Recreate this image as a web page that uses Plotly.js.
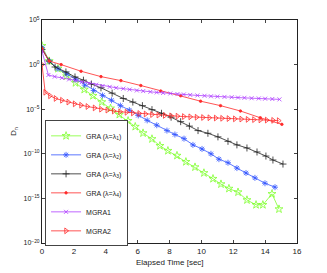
<!DOCTYPE html>
<html><head><meta charset="utf-8">
<script src="https://cdn.plot.ly/plotly-3.0.1.min.js"></script>
<style>html,body{margin:0;padding:0;background:#fff}#c{width:327px;height:273px}</style>
</head><body><div id="c"></div>
<script>
var gra1X = [0, 0.45, 1.0, 1.55, 2.1, 2.65, 3.2, 3.75, 4.3, 4.85, 5.4, 5.85, 6.34, 6.9, 7.4, 7.9, 8.47, 9.03, 9.6, 10.16, 10.73, 11.23, 11.73, 12.3, 12.86, 13.43, 13.86, 14.43, 14.87];
var gra1Y = [1.26e2, 2.5, 3.5e-1, 5.0e-2, 8.9e-3, 1.6e-3, 3.2e-4, 6.3e-5, 1.26e-5, 2.5e-6, 5.0e-7, 1.1e-7, 2.1e-8, 4.6e-9, 7.9e-10, 2.2e-10, 6.3e-11, 1.26e-11, 3.2e-12, 7.1e-13, 1.6e-13, 4.0e-14, 1.26e-14, 5.0e-15, 6.6e-16, 1.9e-16, 1.9e-16, 3.2e-15, 6.3e-17];

var gra2X = [0, 0.45, 1.0, 1.56, 2.12, 2.68, 3.24, 3.8, 4.36, 4.92, 5.48, 6.04, 6.6, 7.2, 7.84, 8.34, 8.91, 9.47, 10.04, 10.6, 11.1, 11.67, 12.23, 12.8, 13.36, 13.99, 14.62];
var gra2Y = [7.9e1, 2.5, 3.5e-1, 8.9e-2, 2.2e-2, 5.0e-3, 1.26e-3, 3.5e-4, 1e-4, 2.5e-5, 7.9e-6, 2.0e-6, 5.6e-7, 1.6e-7, 4.0e-8, 1.45e-8, 5.0e-9, 1.0e-9, 3.5e-10, 1e-10, 2.5e-11, 1e-11, 2.5e-12, 7.1e-13, 2.0e-13, 5.0e-14, 1.8e-14];

var gra3X = [0, 0.45, 0.82, 1.5, 2.07, 2.6, 3.1, 3.7, 4.4, 5.1, 5.7, 6.3, 6.9, 7.5, 8.1, 8.7, 9.25, 9.79, 10.41, 11.04, 11.67, 12.23, 12.86, 13.49, 14.05, 14.49, 15.12];
var gra3Y = [5.0e1, 2.5, 5.4e-1, 1.5e-1, 4.1e-2, 1.8e-2, 6.6e-3, 2.5e-3, 6.3e-4, 1.6e-4, 6.3e-5, 2.5e-5, 8.9e-6, 3.5e-6, 1.26e-6, 4.0e-7, 1.26e-7, 4.0e-8, 2.0e-8, 7.9e-9, 2.5e-9, 1e-9, 4.5e-10, 1.6e-10, 5.6e-11, 2.0e-11, 7.1e-12];

var gra4X = [0, 0.45, 1.2, 2.45, 3.7, 4.95, 6.2, 7.45, 8.7, 9.95, 11.2, 12.45, 13.7, 15.05];
var gra4Y = [6.3e1, 2.5, 1.0, 1.8e-1, 4.5e-2, 1.6e-2, 4.5e-3, 1.1e-3, 3.2e-4, 7.9e-5, 2.5e-5, 6.3e-6, 1.1e-6, 2.0e-7];

var mgra1X = [0, 0.4, 0.8, 1.25, 1.7, 2.1, 2.5, 2.95, 3.4, 3.8, 4.25, 4.65, 5.1, 5.5, 5.95, 6.35, 6.8, 7.2, 7.6, 8.05, 8.5, 8.9, 9.3, 9.75, 10.2, 10.6, 11.0, 11.45, 11.9, 12.3, 12.7, 13.15, 13.6, 14.0, 14.45, 14.9];
var mgra1Y = [3.2e1, 6.8e-2, 4.5e-2, 3.2e-2, 2.2e-2, 1.6e-2, 1.1e-2, 7.9e-3, 5.6e-3, 4.0e-3, 3.2e-3, 2.5e-3, 2.0e-3, 1.6e-3, 1.26e-3, 1.07e-3, 8.9e-4, 7.6e-4, 6.6e-4, 5.8e-4, 5.0e-4, 4.5e-4, 4.0e-4, 3.5e-4, 3.2e-4, 2.8e-4, 2.6e-4, 2.4e-4, 2.2e-4, 2.0e-4, 1.9e-4, 1.7e-4, 1.6e-4, 1.5e-4, 1.4e-4, 1.26e-4];

var mgra2X = [0, 0.2, 0.5, 0.85, 1.25, 1.65, 2.05, 2.45, 2.85, 3.3, 3.7, 4.1, 4.5, 4.9, 5.3, 5.7, 6.1, 6.5, 6.9, 7.3, 7.7, 8.1, 8.5, 8.9, 9.3, 9.7, 10.1, 10.5, 10.9, 11.3, 11.7, 12.1, 12.5, 12.9, 13.3, 13.7, 14.1, 14.5, 14.85];
var mgra2Y = [1.0, 7.9e-4, 3.2e-4, 1.6e-4, 1e-4, 6.3e-5, 4.0e-5, 2.8e-5, 2.0e-5, 1.4e-5, 1e-5, 7.9e-6, 6.3e-6, 5.2e-6, 4.5e-6, 3.8e-6, 3.3e-6, 2.9e-6, 2.5e-6, 2.2e-6, 2.0e-6, 1.8e-6, 1.66e-6, 1.5e-6, 1.4e-6, 1.26e-6, 1.17e-6, 1.1e-6, 1.02e-6, 9.5e-7, 8.9e-7, 8.3e-7, 7.8e-7, 7.2e-7, 6.8e-7, 6.3e-7, 6.0e-7, 5.6e-7, 5.2e-7];

var seriesNames = ["GRA (\u03bb=\u03bb<sub>1</sub>)", "GRA (\u03bb=\u03bb<sub>2</sub>)", "GRA (\u03bb=\u03bb<sub>3</sub>)", "GRA (\u03bb=\u03bb<sub>4</sub>)", "MGRA1", "MGRA2"];
var xTickVals = [0, 2, 4, 6, 8, 10, 12, 14, 16];
var yTickVals = [1e5, 1e0, 1e-5, 1e-10, 1e-15, 1e-20];
var yTickText = ["10<sup>5</sup>", "10<sup>0</sup>", "10<sup>\u22125</sup>", "10<sup>\u221210</sup>", "10<sup>\u221215</sup>", "10<sup>\u221220</sup>"];

function tr(x, y, name, color, symbol, size) {
  return {x: x, y: y, name: name, type: 'scatter', mode: 'lines+markers',
    line: {color: color, width: 0.8},
    marker: {symbol: symbol, size: size, color: color, line: {color: color, width: 0.8}}};
}
var data = [
  tr(gra1X, gra1Y, seriesNames[0], '#80ff30', 'star-open', 6),
  tr(gra2X, gra2Y, seriesNames[1], '#3355ff', 'asterisk-open', 5),
  tr(gra3X, gra3Y, seriesNames[2], '#222222', 'cross-thin-open', 5),
  tr(gra4X, gra4Y, seriesNames[3], '#ff2a2a', 'circle', 2.5),
  tr(mgra1X, mgra1Y, seriesNames[4], '#b040ff', 'x-thin-open', 4),
  tr(mgra2X, mgra2Y, seriesNames[5], '#ff2a2a', 'triangle-right-open', 5)
];
var layout = {
  width: 327, height: 273,
  margin: {l: 42, r: 30, t: 20, b: 30},
  paper_bgcolor: '#fff', plot_bgcolor: '#fff',
  font: {family: 'Arial, Liberation Sans, sans-serif', size: 8, color: '#222'},
  showlegend: true,
  legend: {x: 0.012, y: 0.55, xanchor: 'left', yanchor: 'top', bgcolor: '#fff',
    bordercolor: '#444', borderwidth: 1, font: {size: 7}, tracegroupgap: 0, itemwidth: 30},
  xaxis: {range: [0, 16], tickvals: xTickVals, ticks: 'inside', ticklen: 3, showgrid: false,
    zeroline: false, showline: true, mirror: 'ticks', linecolor: '#222', linewidth: 1,
    automargin: false, tickfont: {size: 8}},
  yaxis: {type: 'log', range: [-20, 5], tickvals: yTickVals, ticktext: yTickText, ticks: 'inside',
    ticklen: 3, showgrid: false, zeroline: false, showline: true, mirror: 'ticks',
    linecolor: '#222', linewidth: 1, tickfont: {size: 7}, automargin: false,
    title: {text: 'D<sub>n</sub>', font: {size: 8}}},
  annotations: [{text: 'Elapsed Time [sec]', xref: 'paper', yref: 'paper', x: 0.5, y: -0.06,
    xanchor: 'center', yanchor: 'top', showarrow: false, font: {size: 8}}]
};
Plotly.newPlot('c', data, layout, {displayModeBar: false, staticPlot: true});
</script></body></html>
